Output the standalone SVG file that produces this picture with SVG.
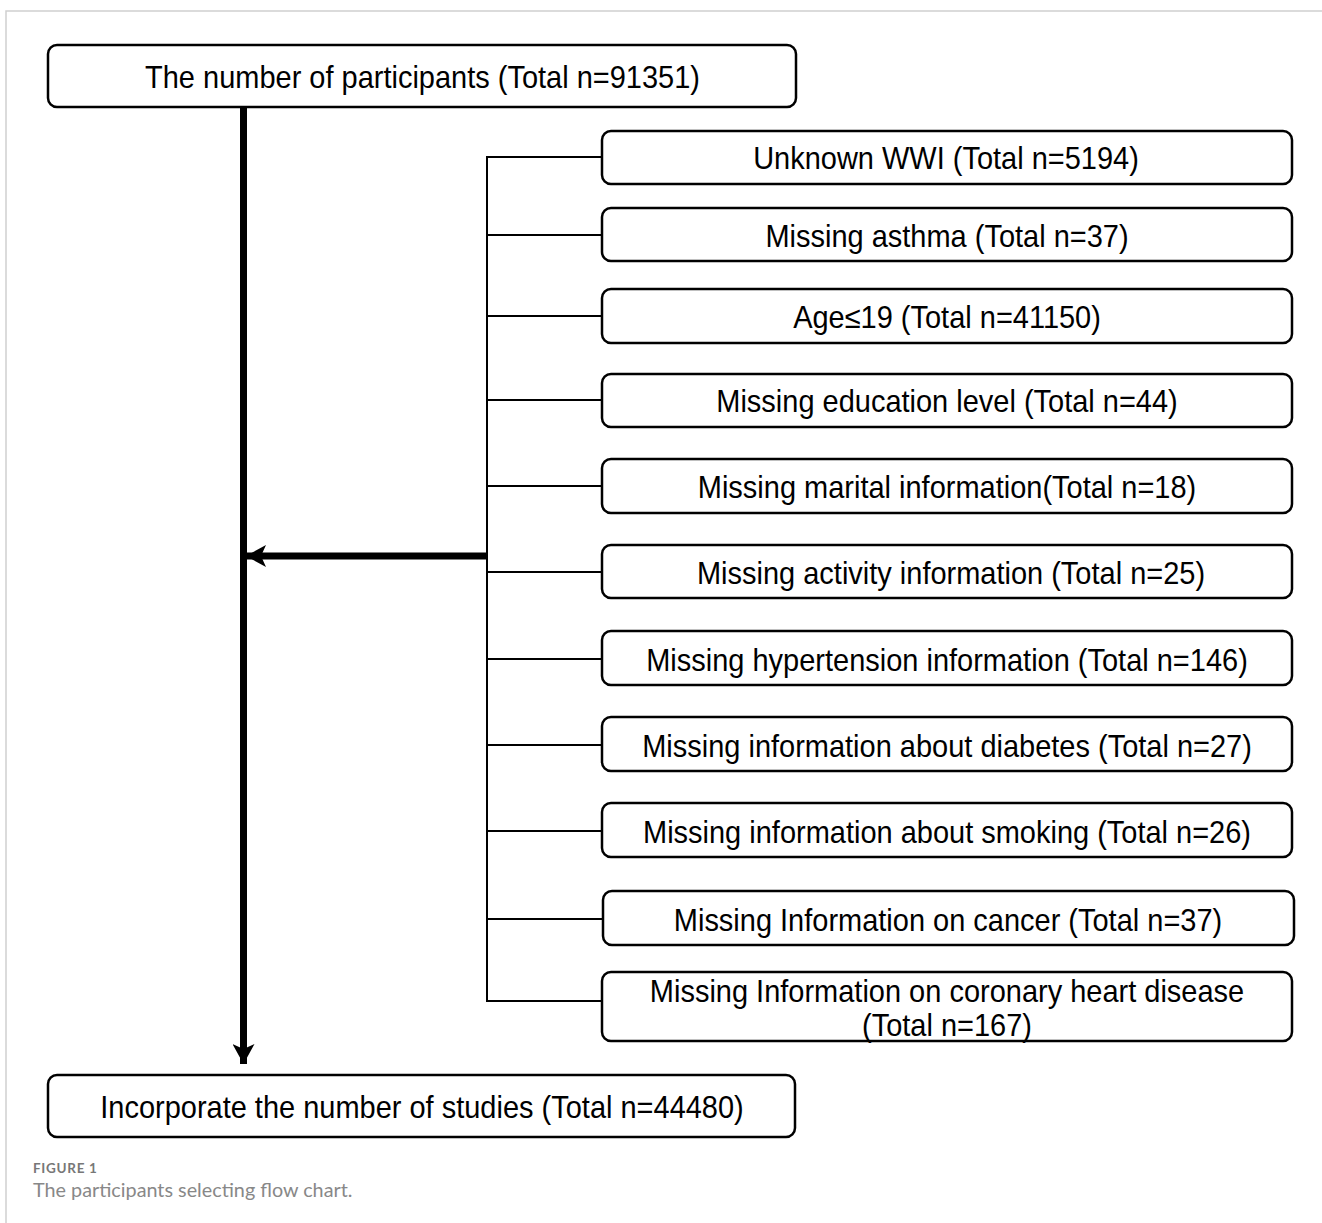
<svg xmlns="http://www.w3.org/2000/svg" width="1322" height="1223" viewBox="0 0 1322 1223">
<style>
.box{fill:#fff;stroke:#000;stroke-width:2.5}
.t{font-family:"Liberation Sans",Arial,sans-serif;font-size:31px;fill:#000;text-anchor:middle}
.thin{stroke:#000;stroke-width:2;fill:none}
.thick{stroke:#000;stroke-width:7;fill:none}
.cap{font-family:Lato,"Open Sans",sans-serif}
</style>
<defs>
<marker id="ah" markerUnits="userSpaceOnUse" markerWidth="22" markerHeight="22" viewBox="0 0 22 22" refX="20" refY="11" orient="auto">
<path d="M0,0 L20,11 L0,22 L5,11 Z" fill="#000"/>
</marker>
</defs>
<rect width="1322" height="1223" fill="#fff"/>
<g id="frame" fill="none" stroke="#d0d0d0" stroke-width="1.5">
<path d="M6,1223 V11 H1322"/>
</g>
<g id="connectors">
<line class="thick" x1="243.5" y1="107" x2="243.5" y2="1064" marker-end="url(#ah)"/>
<line class="thin" x1="487" y1="156" x2="487" y2="1002"/>
<path class="thin" d="M486,157 H602 M487,235 H602 M487,316 H602 M487,400 H602 M487,486 H602 M487,572 H602 M487,659 H602 M487,745 H602 M487,831 H602 M487,919 H603 M486,1001 H602"/>
<line class="thick" x1="488" y1="556" x2="246" y2="556" stroke-width="6" marker-end="url(#ah)"/>
</g>
<g id="n0"><rect class="box" x="48" y="45" width="748" height="62" rx="9"/><text class="t" transform="translate(422.5,87.5) scale(0.935,1)">The number of participants (Total n=91351)</text></g>
<g id="n1"><rect class="box" x="602" y="131" width="690" height="53" rx="9"/><text class="t" transform="translate(946,168.5) scale(0.935,1)">Unknown WWI (Total n=5194)</text></g>
<g id="n2"><rect class="box" x="602" y="208" width="690" height="53" rx="9"/><text class="t" transform="translate(947,246.5) scale(0.935,1)">Missing asthma (Total n=37)</text></g>
<g id="n3"><rect class="box" x="602" y="289" width="690" height="54" rx="9"/><text class="t" transform="translate(947,327.5) scale(0.935,1)">Age≤19 (Total n=41150)</text></g>
<g id="n4"><rect class="box" x="602" y="374" width="690" height="53" rx="9"/><text class="t" transform="translate(947,411.5) scale(0.935,1)">Missing education level (Total n=44)</text></g>
<g id="n5"><rect class="box" x="602" y="459" width="690" height="54" rx="9"/><text class="t" transform="translate(947,497.5) scale(0.935,1)">Missing marital information(Total n=18)</text></g>
<g id="n6"><rect class="box" x="602" y="545" width="690" height="53" rx="9"/><text class="t" transform="translate(951,583.5) scale(0.935,1)">Missing activity information (Total n=25)</text></g>
<g id="n7"><rect class="box" x="602" y="631" width="690" height="54" rx="9"/><text class="t" transform="translate(947,670.5) scale(0.935,1)">Missing hypertension information (Total n=146)</text></g>
<g id="n8"><rect class="box" x="602" y="717" width="690" height="54" rx="9"/><text class="t" transform="translate(947,756.5) scale(0.935,1)">Missing information about diabetes (Total n=27)</text></g>
<g id="n9"><rect class="box" x="602" y="803" width="690" height="54" rx="9"/><text class="t" transform="translate(947,842.5) scale(0.935,1)">Missing information about smoking (Total n=26)</text></g>
<g id="n10"><rect class="box" x="603" y="891" width="691" height="54" rx="9"/><text class="t" transform="translate(948,930.5) scale(0.935,1)">Missing Information on cancer (Total n=37)</text></g>
<g id="n11"><rect class="box" x="602" y="972" width="690" height="69" rx="9"/><text class="t" transform="translate(947,1002) scale(0.935,1)">Missing Information on coronary heart disease</text><text class="t" transform="translate(947,1036) scale(0.935,1)">(Total n=167)</text></g>
<g id="n12"><rect class="box" x="48" y="1075" width="747" height="62" rx="9"/><text class="t" transform="translate(422,1118) scale(0.935,1)">Incorporate the number of studies (Total n=44480)</text></g>
<g id="caption">
<text class="cap" x="33" y="1173" font-size="13.5" font-weight="bold" letter-spacing="0.7" fill="#777">FIGURE 1</text>
<text class="cap" x="33" y="1197" font-size="19.8" fill="#888">The participants selecting flow chart.</text>
</g>
</svg>
